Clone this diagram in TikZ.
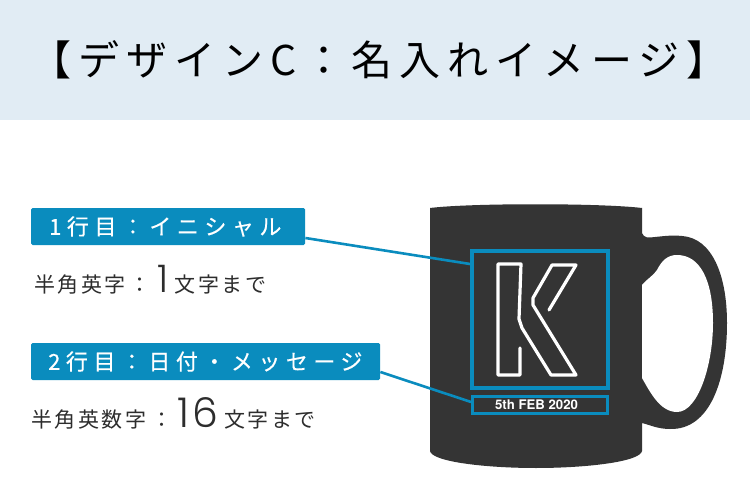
\documentclass[tikz,border=0pt]{standalone}
\usepackage{fontspec}
\setmainfont{Noto Sans CJK JP}
\newfontfamily\titlefont[LetterSpace=17]{Noto Sans CJK JP}
\newfontfamily\tagfont[LetterSpace=25,FakeBold=0.4]{Noto Sans CJK JP}
\newfontfamily\notefont[LetterSpace=12]{Noto Sans CJK JP}
\newfontfamily\digitfont[LetterSpace=8]{Poppins Light}
\newfontfamily\latinfont{TeX Gyre Heros}
\definecolor{headbg}{RGB}{225,236,244}
\definecolor{tagblue}{RGB}{10,140,190}
\definecolor{mugdark}{RGB}{52,52,52}
\definecolor{inkdark}{RGB}{45,45,45}
\newcommand{\notetext}[1]{{\notefont\fontsize{21}{21}\selectfont #1}}
\newcommand{\notedigit}[2]{{\digitfont\fontsize{#1}{#1}\selectfont #2}}
\tikzset{
  tagbox/.style={fill=tagblue, rounded corners=1.5pt, text=white, inner sep=0pt, anchor=west},
  tagtext/.style={text=white, inner sep=0pt, anchor=west},
  taglink/.style={draw=tagblue, line width=2.6pt},
  noteline/.style={text=inkdark, inner sep=0pt, anchor=base west},
  frame/.style={draw=tagblue, line width=4pt, inner sep=0pt}
}
\begin{document}
\begin{tikzpicture}[x=1pt, y=-1pt]
\useasboundingbox (0,0) rectangle (750,500);
\fill[white] (0,0) rectangle (750,500);
\fill[headbg] (0,0) rectangle (750,120);
\node (title) at (379,60) {\titlefont\fontsize{41}{41}\selectfont 【デザインC：名入れイメージ】};
% mug
\fill[mugdark] (430,208) .. controls (470,203) and (600,203) .. (642,208)
  -- (642,233) .. controls (644,238) and (648,238) .. (655,237)
  .. controls (665,236) and (672,235) .. (682,236)
  .. controls (712,238) and (727,275) .. (727,323)
  .. controls (727,380) and (710,430) .. (670,429)
  .. controls (658,429) and (650,425) .. (642,423)
  -- (642,451) .. controls (640,462) and (585,468) .. (536,468)
  .. controls (487,468) and (432,462) .. (430,451) -- cycle;
\fill[white] (642,285) .. controls (648,278) and (653,276) .. (657,270)
  .. controls (662,260) and (668,255) .. (677,255)
  .. controls (700,255) and (713,280) .. (713,323)
  .. controls (713,365) and (698,412) .. (677,412)
  .. controls (660,412) and (650,392) .. (642,378) -- cycle;
% K
\draw[white, line width=3.2pt, line join=round, line cap=round]
  (520,348) -- (520,375) -- (498,375) -- (498,264) -- (521,264) -- (519,319) -- (522,328)
  -- (551,375) -- (576,375) -- (533,305) -- (533,298) -- (552,265) -- (576,265) -- (549,310);
\node[frame, minimum width=136pt, minimum height=137pt] (bigframe) at (540,319.5) {};
\node[frame, line width=3.4pt, minimum width=134.5pt, minimum height=17.5pt, text=white, font=\latinfont\bfseries\fontsize{13.2}{13.2}\selectfont] (smallframe) at (540,405) {\hspace*{-7pt}5th FEB 2020};
% labels
\node[tagbox, minimum width=274pt, minimum height=37pt] (tagA) at (31,226.5) {};
\node[tagbox, minimum width=349pt, minimum height=37pt] (tagB) at (31,361.5) {};
\node[tagtext] (tagAtext) at (49,226.5) {\tagfont\fontsize{22}{22}\selectfont 1行目：イニシャル};
\node[tagtext] (tagBtext) at (48,361.5) {\tagfont\fontsize{22}{22}\selectfont 2行目：日付・メッセージ};
\node[noteline] (noteA) at (34,292) {\notetext{半角英字}\hspace{4pt}\notetext{：}\hspace{7pt}\notedigit{38}{1}\hspace{6pt}\notetext{文字まで}};
\node[noteline] (noteB) at (31,427) {\notetext{半角英数字}\hspace{5pt}\notetext{：}\hspace{5pt}\notedigit{41}{16}\hspace{6pt}\notetext{文字まで}};
\draw[taglink] (tagA.east |- 0,238) -- (bigframe.west |- 0,264);
\draw[taglink] (tagB.east |- 0,372) -- (smallframe.west |- 0,402);
\end{tikzpicture}
\end{document}
